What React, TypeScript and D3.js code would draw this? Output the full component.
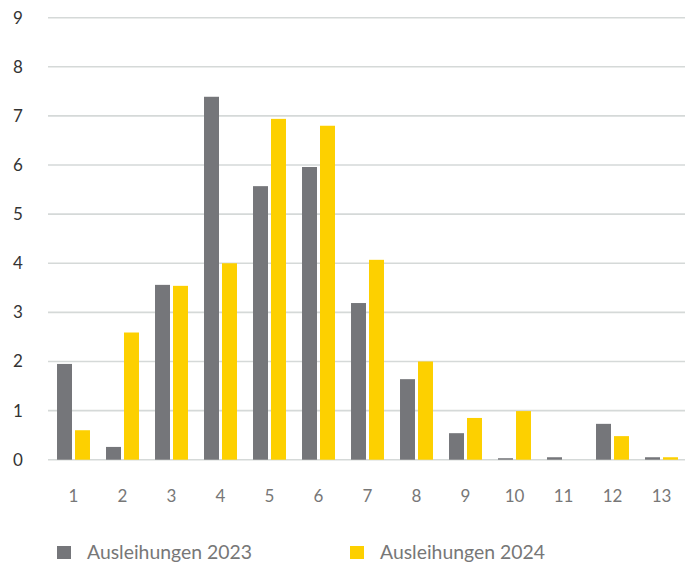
import React, { useEffect, useRef } from 'react';
import * as d3 from 'd3';

// Monate / Kategorien
const categories = ['1', '2', '3', '4', '5', '6', '7', '8', '9', '10', '11', '12', '13'];
const seriesNames = ['Ausleihungen 2023', 'Ausleihungen 2024'];
const values2023 = [1.95, 0.26, 3.56, 7.39, 5.57, 5.96, 3.19, 1.64, 0.54, 0.03, 0.05, 0.73, 0.05];
const values2024 = [0.6, 2.59, 3.54, 4.0, 6.94, 6.8, 4.07, 2.0, 0.85, 0.99, 0, 0.48, 0.05];
const yTicks = [0, 1, 2, 3, 4, 5, 6, 7, 8, 9];
const colors = ['#75767a', '#fdd000'];

const width = 691;
const height = 563;

export default function App() {
  const ref = useRef<SVGSVGElement>(null);

  useEffect(() => {
    const svg = d3.select(ref.current);
    svg.selectAll('*').remove();

    const font = 'Lato, "Open Sans", sans-serif';

    const x = d3.scaleBand().domain(categories).range([49, 686]).paddingInner(0.327).paddingOuter(0.1635);
    const xInner = d3.scaleBand().domain(seriesNames).range([0, x.bandwidth()]).paddingInner(0.1667);
    const y = d3.scaleLinear().domain([0, 9]).range([459.7, 17.7]);

    // gridlines
    svg.append('g')
      .selectAll('line')
      .data(yTicks)
      .join('line')
      .attr('x1', 48)
      .attr('x2', 685)
      .attr('y1', d => y(d))
      .attr('y2', d => y(d))
      .attr('stroke', '#d5d9d8')
      .attr('stroke-width', 1.6);

    // y labels
    svg.append('g')
      .selectAll('text')
      .data(yTicks)
      .join('text')
      .attr('x', 18)
      .attr('y', d => y(d))
      .attr('dy', '0.35em')
      .attr('text-anchor', 'middle')
      .attr('font-family', font)
      .attr('font-size', 17)
      .attr('fill', '#333')
      .text(d => d);

    const series = [values2023, values2024];

    const groups = svg.append('g')
      .selectAll('g')
      .data(categories)
      .join('g')
      .attr('transform', d => `translate(${x(d)},0)`);

    groups.selectAll('rect')
      .data((d, i) => series.map((s, k) => ({ name: seriesNames[k], value: s[i], k })))
      .join('rect')
      .attr('x', d => xInner(d.name)!)
      .attr('width', xInner.bandwidth())
      .attr('y', d => y(d.value))
      .attr('height', d => y(0) - y(d.value))
      .attr('fill', d => colors[d.k]);

    // x labels
    svg.append('g')
      .selectAll('text')
      .data(categories)
      .join('text')
      .attr('x', d => x(d)! + x.bandwidth() / 2)
      .attr('y', 496)
      .attr('dy', '0.35em')
      .attr('text-anchor', 'middle')
      .attr('font-family', font)
      .attr('font-size', 17)
      .attr('fill', '#777')
      .text(d => d);

    // legend
    const legendX = [57, 350];
    const legend = svg.append('g')
      .selectAll('g')
      .data(seriesNames)
      .join('g')
      .attr('transform', (d, i) => `translate(${legendX[i]},546)`);
    legend.append('rect')
      .attr('width', 14)
      .attr('height', 13)
      .attr('fill', (d, i) => colors[i]);
    legend.append('text')
      .attr('x', 30)
      .attr('y', 6.5)
      .attr('dy', '0.35em')
      .attr('font-family', font)
      .attr('font-size', 19.4)
      .attr('fill', '#777')
      .text(d => d);
  }, []);

  return (
    <div style={{ position: 'absolute', left: 0, top: 0 }}>
      <svg ref={ref} width={width} height={height} style={{ display: 'block', background: '#fff' }} />
    </div>
  );
}
